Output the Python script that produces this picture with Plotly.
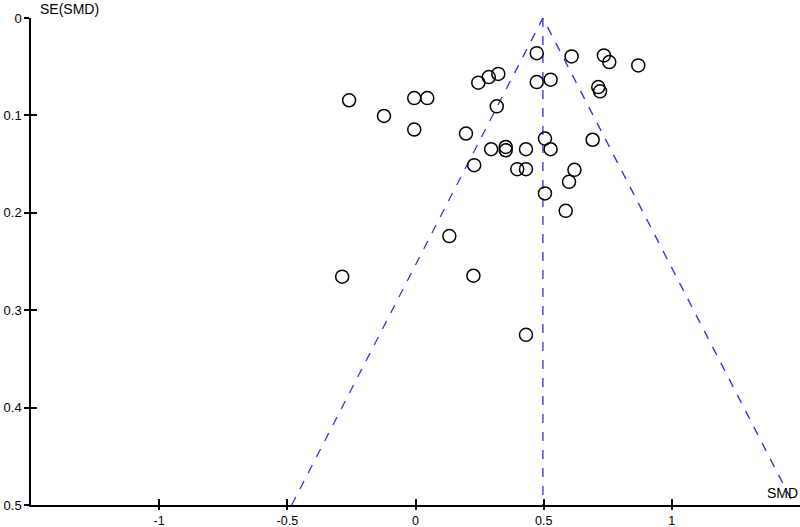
import plotly.graph_objs as go

# study effects (SMD) and their standard errors
smd = [-0.259, -0.123, -0.005, 0.046, -0.005, 0.197, 0.245, 0.286, 0.323, 0.317,
       0.473, 0.609, 0.735, 0.756, 0.869, 0.473, 0.527, 0.713, 0.720, 0.505,
       0.691, 0.295, 0.352, 0.352, 0.431, 0.527, 0.229, 0.397, 0.431, 0.620,
       0.599, 0.505, 0.586, 0.132, -0.286, 0.226, 0.431]
se = [0.0845, 0.1006, 0.0822, 0.0822, 0.1145, 0.1186, 0.0664, 0.0607, 0.0574, 0.0907,
      0.0361, 0.0394, 0.0384, 0.0453, 0.0487, 0.0658, 0.0633, 0.0709, 0.0753, 0.1238,
      0.125, 0.1347, 0.1324, 0.1358, 0.1347, 0.1347, 0.1511, 0.1552, 0.1552, 0.1559,
      0.1682, 0.1801, 0.1980, 0.2239, 0.2656, 0.2646, 0.3253]

pooled = 0.497
se_max = 0.5
x_ticks = [-1, -0.5, 0, 0.5, 1]
y_ticks = [0, 0.1, 0.2, 0.3, 0.4, 0.5]

blue = 'rgb(50,50,215)'
font = dict(family='Liberation Sans, Arial, sans-serif', size=13, color='black')
xtick_font = dict(family='Liberation Sans, Arial, sans-serif', size=12.5, color='black')
label_font = dict(family='Liberation Sans, Arial, sans-serif', size=14, color='black')

fig = go.Figure()

# pseudo 95% confidence limits
fig.add_trace(go.Scatter(
    x=[pooled - 1.96 * se_max, pooled, pooled + 1.96 * se_max],
    y=[se_max, 0, se_max],
    mode='lines', line=dict(color=blue, width=1.3, dash='dash'),
    hoverinfo='skip', showlegend=False))
fig.add_trace(go.Scatter(
    x=[pooled, pooled], y=[0, se_max],
    mode='lines', line=dict(color=blue, width=1.3, dash='dash'),
    hoverinfo='skip', showlegend=False))

fig.add_trace(go.Scatter(
    x=smd, y=se, mode='markers',
    marker=dict(symbol='circle-open', size=13, color='black', line=dict(width=1.5)),
    showlegend=False))

axis_common = dict(showgrid=False, zeroline=False, showline=True, automargin=False,
                   linecolor='black', linewidth=1.5, tickcolor='black', tickwidth=1.5)

fig.update_layout(
    width=800, height=527,
    margin=dict(l=31, r=0, t=17.5, b=21.5, autoexpand=False),
    plot_bgcolor='white', paper_bgcolor='white',
    font=font,
    xaxis=dict(range=[-1.5, 1.5], tickvals=x_ticks, ticktext=['-1', '-0.5', '0', '0.5', '1'],
               ticks='outside', ticklen=3, tickfont=xtick_font, **axis_common),
    yaxis=dict(range=[se_max, 0], tickvals=y_ticks,
               ticktext=['0', '0.1', '0.2', '0.3', '0.4', '0.5'],
               ticks='outside', ticklen=5, tickfont=font, **axis_common),
    # inner half of the cross ticks
    xaxis2=dict(range=[-1.5, 1.5], tickvals=x_ticks, ticks='inside', ticklen=6,
                showticklabels=False, overlaying='x', anchor='y2', side='bottom',
                automargin=False, showgrid=False, zeroline=False,
                tickcolor='black', tickwidth=1.5),
    yaxis2=dict(range=[se_max, 0], tickvals=y_ticks, ticks='inside', ticklen=6,
                showticklabels=False, overlaying='y', anchor='x2', side='left',
                automargin=False, showgrid=False, zeroline=False,
                tickcolor='black', tickwidth=1.5),
    annotations=[
        dict(text='SE(SMD)', x=0, y=1, xref='paper', yref='paper',
             xanchor='left', yanchor='bottom', xshift=7, yshift=-1,
             showarrow=False, font=label_font),
        dict(text='SMD', x=1, y=0, xref='paper', yref='paper',
             xanchor='right', yanchor='bottom', xshift=0, yshift=2,
             showarrow=False, font=label_font),
    ],
)

# dummy trace so the overlay axes get drawn
fig.add_trace(go.Scatter(x=[None], y=[None], xaxis='x2', yaxis='y2',
                         showlegend=False, hoverinfo='skip'))

# drop the default page margin so the figure sits at the window corner
fig.write_html("out.html", config={'displayModeBar': False},
               post_script="document.body.style.margin='0';")
